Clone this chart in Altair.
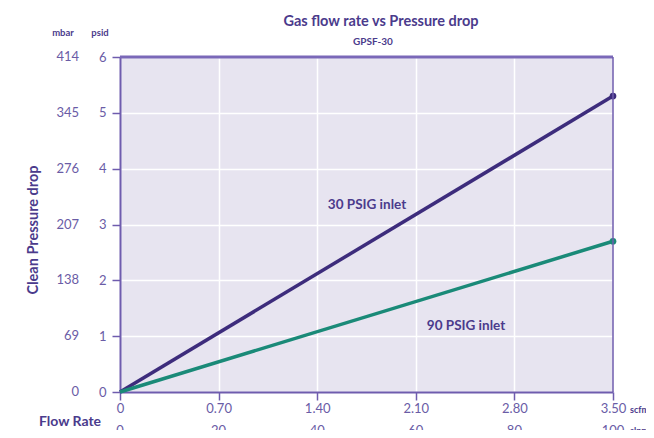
import altair as alt
import pandas as pd

# data
flow_scfm = [0.0, 3.5]
psid_30 = [0.0, 5.3]
psid_90 = [0.0, 2.7]
series_names = ["30 PSIG inlet", "90 PSIG inlet"]
series_colors = ["#3d2c7c", "#1a8a78"]

psid_ticks = [0, 1, 2, 3, 4, 5, 6]
mbar_labels = ["0", "69", "138", "207", "276", "345", "414"]
scfm_ticks = [0, 0.7, 1.4, 2.1, 2.8, 3.5]
slpm_labels = ["0", "20", "40", "60", "80", "100"]

W, H = 493, 335
FONT = "Lato"
LABEL = "#6a5ca6"
DARK = "#4b3b8c"
AXIS = "#6f5cae"

rows = []
for name, vals in zip(series_names, [psid_30, psid_90]):
    for x, y in zip(flow_scfm, vals):
        rows.append({"scfm": x, "psid": y, "series": name})
df = pd.DataFrame(rows)

xs = alt.Scale(domain=[0, 3.5], nice=False, zero=False)
ys = alt.Scale(domain=[0, 6], nice=False)
cs = alt.Scale(domain=series_names, range=series_colors)

x_enc = alt.X("scfm:Q", scale=xs, axis=alt.Axis(
    values=scfm_ticks, title=None, grid=True, gridColor="white", gridWidth=1.5,
    domainColor=AXIS, domainWidth=2, tickColor=AXIS, tickSize=8, tickWidth=1.5,
    labelFont=FONT, labelFontSize=13, labelColor=LABEL, labelPadding=2,
    labelExpr="datum.value == 0 ? '0' : format(datum.value, '.2f')",
    labelFlush=False))
y_enc = alt.Y("psid:Q", scale=ys, axis=alt.Axis(
    values=psid_ticks, title=None, grid=True, gridColor="white", gridWidth=1.5,
    domainColor=AXIS, domainWidth=2, tickColor=AXIS, tickSize=8, tickWidth=1.5,
    labelFont=FONT, labelFontSize=13, labelColor=LABEL, labelPadding=6,
    format="d", labelFlush=False))

lines = alt.Chart(df).mark_line(strokeWidth=3.5).encode(
    x=x_enc, y=y_enc,
    color=alt.Color("series:N", scale=cs, legend=None))

pts = alt.Chart(df[df["scfm"] == 3.5]).mark_point(filled=True, size=45, opacity=1).encode(
    x=alt.X("scfm:Q", scale=xs), y=alt.Y("psid:Q", scale=ys),
    color=alt.Color("series:N", scale=cs, legend=None))

top_rule = alt.Chart(pd.DataFrame({"y": [6]})).mark_rule(color="#7a68b8", strokeWidth=3).encode(
    y=alt.Y("y:Q", scale=ys), x=alt.value(0), x2=alt.value(W))
right_rule = alt.Chart(pd.DataFrame({"x": [3.5]})).mark_rule(color=AXIS, strokeWidth=1.5).encode(
    x=alt.X("x:Q", scale=xs), y=alt.value(0), y2=alt.value(H))

# mbar labels
mbar_df = pd.DataFrame({"psid": psid_ticks, "lab": mbar_labels})
mbar = alt.Chart(mbar_df).mark_text(align="right", baseline="middle", font=FONT,
                                    fontSize=13, color=LABEL).encode(
    y=alt.Y("psid:Q", scale=ys), x=alt.value(-41), text="lab:N")

# slpm labels
slpm_df = pd.DataFrame({"scfm": scfm_ticks, "lab": slpm_labels})
slpm = alt.Chart(slpm_df).mark_text(align="center", baseline="middle", font=FONT,
                                    fontSize=13, color=LABEL).encode(
    x=alt.X("scfm:Q", scale=xs), y=alt.value(H + 39), text="lab:N")

def txt(s, x, y, size, bold=True, color=DARK, align="center", angle=0):
    kw = dict(align=align, baseline="middle", font=FONT, fontSize=size,
              fontWeight="bold" if bold else "normal", color=color, text=s)
    if angle:
        kw["angle"] = angle
    return alt.Chart(pd.DataFrame({"a": [0]})).mark_text(**kw).encode(
        x=alt.value(x), y=alt.value(y))

ann = [
    txt("Gas flow rate vs Pressure drop", 261, -35, 14.5),
    txt("GPSF-30", 253, -15, 10),
    txt("mbar", -57, -24, 9.5),
    txt("psid", -20, -24, 9.5),
    txt("Clean Pressure drop", -86, 173, 14.5, angle=270),
    txt("Flow Rate", -50, 365, 14),
    txt("scfm", 510, 353, 9, align="left"),
    txt("slpm", 510, 374, 9, align="left"),
    txt("30 PSIG inlet", 247, 148, 13.5),
    txt("90 PSIG inlet", 346, 269, 13.5),
]

chart = alt.layer(lines, pts, top_rule, right_rule, mbar, slpm, *ann).properties(
    width=W, height=H, autosize="none",
    padding={"left": 112, "top": 49, "right": 33, "bottom": 38},
    background="white",
).configure_view(fill="#e7e4f0", stroke=None)

chart.save("out.html", embed_options={"renderer": "svg", "actions": False})
